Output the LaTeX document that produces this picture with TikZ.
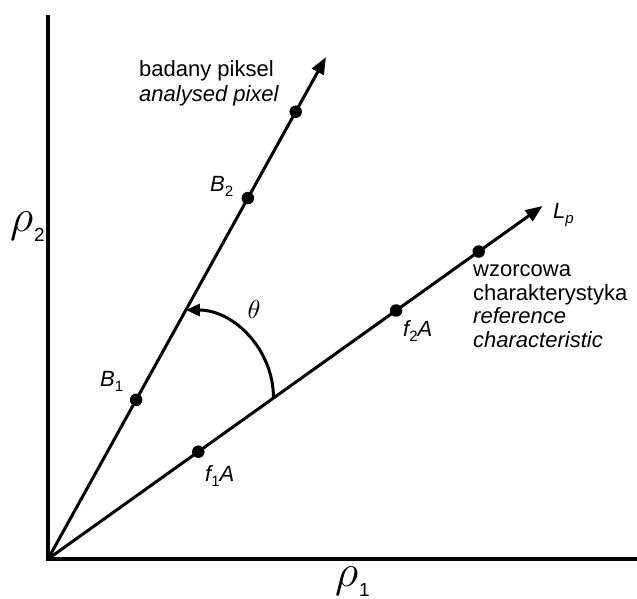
\documentclass[tikz,border=0pt]{standalone}
\usepackage{fontspec}
\setmainfont{Liberation Sans}
\usepackage{graphicx}
\usetikzlibrary{arrows.meta,calc}
\newcommand\lbsub[1]{\raisebox{-5pt}{\upshape\fontsize{15}{15}\selectfont #1}}
\newcommand\lbsubit[1]{\raisebox{-5pt}{\itshape\fontsize{15}{15}\selectfont #1}}
\newcommand\bigrho[1]{\scalebox{2.2}{$\rho$}\hspace{1pt}\raisebox{-10pt}{\fontsize{19}{19}\selectfont #1}}
\begin{document}
\begin{tikzpicture}[x=1pt,y=-1pt,line join=miter,
  lw/.style={line width=3pt},
  ax/.style={line width=4pt},
  dot/.style={circle,fill,inner sep=0pt,minimum size=12.5pt},
  lbl/.style={inner sep=0pt,anchor=base west,font=\fontsize{22}{24}\selectfont},
  tip/.style={-{Triangle[length=17pt,width=13pt]}}]
\useasboundingbox[fill=white] (0,0) rectangle (637,599);
\coordinate (O) at (48,559);
\coordinate (Ytop) at (48,15);
\coordinate (Xend) at (637,559);
\coordinate (Utip) at (326,57);
\coordinate (Ltip) at (542.5,206);
\draw[ax] (Ytop) -- (O) -- (Xend);
\draw[lw,tip] (O) -- (Utip);
\draw[lw,tip] (O) -- (Ltip);
% dots
\node[dot] (B1) at ($(O)!0.317!(Utip)$) {};
\node[dot] (B2) at ($(O)!0.719!(Utip)$) {};
\node[dot] (B3) at ($(O)!0.891!(Utip)$) {};
\node[dot] (F1) at ($(O)!0.304!(Ltip)$) {};
\node[dot] (F2) at ($(O)!0.704!(Ltip)$) {};
\node[dot] (F3) at ($(O)!0.871!(Ltip)$) {};
% angle arc
\coordinate (as) at ($(O)!0.456!(Ltip)$);
\coordinate (ae) at ($(O)!0.496!(Utip)$);
\draw[lw,-{Triangle[length=14pt,width=12pt]}] (as) .. controls +(0,-49) and +(47.5,0) .. (ae);
\node (th) at (254,309) {\scalebox{2.6}{$\theta$}};
% labels
\node[lbl] (bp) at (139,76.7) {badany piksel};
\node[lbl] (ap) at (139,101.2) {\itshape analysed pixel};
\node[lbl] (wz) at (473,276.7) {wzorcowa};
\node[lbl] (ch) at (473,300.2) {charakterystyka};
\node[lbl] (rf) at (473,323.7) {\itshape reference};
\node[lbl] (cc) at (473,347.2) {\itshape characteristic};
\node[lbl] (lB1) at (100,386.7) {\itshape B\lbsub{1}};
\node[lbl] (lB2) at (210,191.7) {\itshape B\lbsub{2}};
\node[lbl] (lF1) at (205,481.7) {\itshape f\lbsub{1}A};
\node[lbl] (lF2) at (403,336.7) {\itshape f\lbsub{2}A};
\node[lbl] (lLp) at (553,218.3) {\itshape L\lbsubit{p}};
\node[lbl] (r2) at (10,231) {\bigrho{2}};
\node[lbl] (r1) at (335,586) {\bigrho{1}};
\end{tikzpicture}
\end{document}
